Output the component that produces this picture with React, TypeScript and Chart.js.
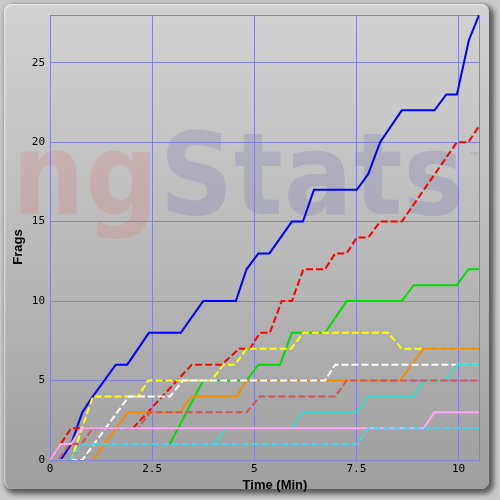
import React, { useEffect, useRef } from "react";
import { Chart, registerables } from "chart.js";

Chart.register(...registerables);

type Pt = [number, number];

// time (minutes) vs cumulative frags, one array per player line
const bluePlayer: Pt[] = [[0, 0], [0.26, 0], [0.52, 1], [0.79, 3], [1.05, 4], [1.61, 6], [1.89, 6], [2.42, 8], [3.2, 8], [3.75, 10], [4.55, 10], [4.81, 12], [5.1, 13], [5.37, 13], [5.92, 15], [6.19, 15], [6.46, 17], [7.51, 17], [7.79, 18], [8.08, 20], [8.61, 22], [9.41, 22], [9.7, 23], [9.96, 23], [10.25, 26.4], [10.5, 28]];
const redPlayer: Pt[] = [[0, 0], [0.26, 1], [0.52, 2], [2.03, 2], [3.47, 6], [4.2, 6], [4.63, 7], [4.89, 7], [5.14, 8], [5.38, 8], [5.67, 10], [5.92, 10], [6.2, 12], [6.73, 12], [6.98, 13], [7.26, 13], [7.51, 14], [7.79, 14], [8.08, 15], [8.61, 15], [9.96, 20], [10.24, 20], [10.5, 21]];
const greenPlayer: Pt[] = [[2.93, 1], [3.75, 5], [4.81, 5], [5.1, 6], [5.63, 6], [5.92, 8], [6.73, 8], [7.26, 10], [8.61, 10], [8.9, 11], [9.96, 11], [10.24, 12], [10.5, 12]];
const yellowPlayer: Pt[] = [[0, 0], [0.52, 0], [1.05, 4], [2.16, 4], [2.4, 5], [3.95, 5], [4.25, 6], [4.53, 6], [4.81, 7], [5.9, 7], [6.2, 8], [8.28, 8], [8.61, 7], [10.5, 7]];
const orangePlayer: Pt[] = [[0, 0], [1.05, 0], [1.9, 3], [3.18, 3], [3.47, 4], [4.57, 4], [4.81, 5], [8.57, 5], [9.14, 7], [10.5, 7]];
const whitePlayer: Pt[] = [[0, 0], [0.79, 0], [1.93, 4], [2.94, 4], [3.25, 5], [6.73, 5], [6.98, 6], [10.5, 6]];
const turquoisePlayer: Pt[] = [[4.03, 1], [4.3, 2], [5.92, 2], [6.17, 3], [7.51, 3], [7.79, 4], [8.9, 4], [9.14, 5], [9.65, 5], [9.96, 6], [10.5, 6]];
const brownPlayer: Pt[] = [[0, 0], [0.2, 0], [0.48, 1], [0.77, 1], [1.05, 2], [2.16, 2], [2.45, 3], [4.81, 3], [5.14, 4], [6.98, 4], [7.26, 5], [10.5, 5]];
const pinkPlayer: Pt[] = [[0, 0], [0.26, 1], [0.52, 1], [0.76, 2], [9.14, 2], [9.41, 3], [10.5, 3]];
const cyanPlayer: Pt[] = [[0, 0], [0.5, 0], [0.76, 1], [7.51, 1], [7.79, 2], [10.5, 2]];

const xTickValues = [0, 2.5, 5, 7.5, 10];
const yTickValues = [0, 5, 10, 15, 20, 25];
const X_MAX = 10.5;
const Y_MAX = 28;

const SERIES = [
  { label: "Blue", data: bluePlayer, color: "#0000ff", dashed: false },
  { label: "Red", data: redPlayer, color: "#ff0000", dashed: true },
  { label: "Green", data: greenPlayer, color: "#00dd00", dashed: false },
  { label: "Yellow", data: yellowPlayer, color: "#ffff00", dashed: true },
  { label: "Orange", data: orangePlayer, color: "#f58c00", dashed: false },
  { label: "White", data: whitePlayer, color: "#ffffff", dashed: true },
  { label: "Turquoise", data: turquoisePlayer, color: "#38dcc8", dashed: false },
  { label: "Brown", data: brownPlayer, color: "#cc5656", dashed: true },
  { label: "Pink", data: pinkPlayer, color: "#ffa8f4", dashed: false },
  { label: "Cyan", data: cyanPlayer, color: "#40d8f0", dashed: true },
];

const GRID = "#8282d4";

const titlePlugin = {
  id: "axisTitles",
  afterDraw(chart: any) {
    const ctx = chart.ctx;
    ctx.save();
    ctx.fillStyle = "#000";
    ctx.font = 'bold 13px "Liberation Sans", Arial, sans-serif';
    ctx.textAlign = "center";
    ctx.textBaseline = "middle";
    ctx.fillText("Time (Min)", 275, 485);
    ctx.translate(18, 247);
    ctx.rotate(-Math.PI / 2);
    ctx.fillText("Frags", 0, 0);
    ctx.restore();
  },
};

export default function App() {
  const ref = useRef<HTMLCanvasElement | null>(null);

  useEffect(() => {
    if (!ref.current) return;
    const n = SERIES.length;
    const chart = new Chart(ref.current, {
      type: "line",
      data: {
        datasets: SERIES.map((s, i) => ({
          label: s.label,
          data: s.data.map(([x, y]) => ({ x, y })),
          borderColor: s.color,
          backgroundColor: s.color,
          borderWidth: 2,
          borderDash: s.dashed ? [7, 3] : [],
          pointRadius: 0,
          tension: 0,
          fill: false,
          order: n - 1 - i,
        })),
      },
      options: {
        animation: false,
        responsive: false,
        devicePixelRatio: 1,
        layout: { padding: { top: 15, right: 21, left: 0, bottom: 0 } },
        plugins: { legend: { display: false }, tooltip: { enabled: false } },
        scales: {
          x: {
            type: "linear",
            min: 0,
            max: X_MAX,
            afterBuildTicks: (s: any) => {
              s.ticks = [...xTickValues, X_MAX].map((v) => ({ value: v }));
            },
            afterFit: (s: any) => {
              s.height = 40;
            },
            ticks: {
              callback: (v: any) => (xTickValues.includes(Number(v)) ? String(v) : ""),
              color: "#000",
              font: { family: "DejaVu Sans Mono", size: 11 },
              maxRotation: 0,
              autoSkip: false,
              padding: 3,
            },
            grid: { color: GRID, lineWidth: 1, drawTicks: false },
            border: { color: GRID },
          },
          y: {
            type: "linear",
            min: 0,
            max: Y_MAX,
            afterBuildTicks: (s: any) => {
              s.ticks = [...yTickValues, Y_MAX].map((v) => ({ value: v }));
            },
            afterFit: (s: any) => {
              s.width = 50;
            },
            ticks: {
              callback: (v: any) => (yTickValues.includes(Number(v)) ? String(v) : ""),
              color: "#000",
              font: { family: "DejaVu Sans Mono", size: 11 },
              autoSkip: false,
              padding: 5,
            },
            grid: { color: GRID, lineWidth: 1, drawTicks: false },
            border: { color: GRID },
          },
        },
      },
      plugins: [titlePlugin],
    });
    return () => chart.destroy();
  }, []);

  return (
    <div
      style={{
        position: "fixed",
        left: 0,
        top: 0,
        width: 500,
        height: 500,
        overflow: "hidden",
        background: "#cacaca",
      }}
    >
      <div
        style={{
          position: "absolute",
          left: 4,
          top: 4,
          width: 485,
          height: 485,
          borderRadius: 8,
          background: "linear-gradient(to bottom, #d2d2d2 0%, #bababa 50%, #9e9e9e 100%)",
          boxShadow: "3px 3px 5px 2px rgba(0,0,0,0.55), inset 1px 1px 2px rgba(255,255,255,0.6)",
        }}
      />
      <div
        style={{
          position: "absolute",
          left: 12,
          top: 128,
          fontFamily: '"DejaVu Sans", sans-serif',
          fontWeight: "bold",
          fontSize: 102,
          lineHeight: 1,
          whiteSpace: "nowrap",
          letterSpacing: 1,
          transform: "scaleY(1.12)",
          transformOrigin: "0px 86px",
        }}
      >
        <span style={{ color: "rgba(255,0,0,0.09)" }}>ng</span>
        <span style={{ color: "rgba(40,40,150,0.13)" }}>Stats</span>
      </div>
      <div
        style={{
          position: "absolute",
          left: 467,
          top: 150,
          fontFamily: '"DejaVu Sans", sans-serif',
          fontWeight: "bold",
          fontSize: 14,
          lineHeight: 1,
          color: "rgba(40,40,150,0.13)",
        }}
      >
        ™
      </div>
      <canvas
        ref={ref}
        width={500}
        height={500}
        style={{ position: "absolute", left: 0, top: 0, width: 500, height: 500 }}
      />
    </div>
  );
}
